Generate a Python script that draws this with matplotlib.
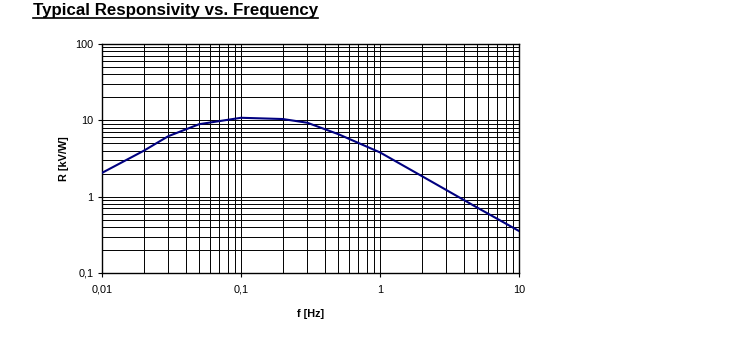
import matplotlib
matplotlib.use("Agg")
import matplotlib.pyplot as plt
from matplotlib.ticker import FixedLocator, FixedFormatter, LogLocator, NullFormatter
from matplotlib.lines import Line2D

freq = [0.01, 0.02, 0.03, 0.05, 0.1, 0.2, 0.3, 0.5, 1, 2, 5, 10]
resp = [2.05, 4.0, 6.2, 8.9, 10.8, 10.4, 9.3, 6.6, 3.8, 1.86, 0.72, 0.355]
x_ticks = [0.01, 0.1, 1, 10]
x_labels = ["0,01", "0,1", "1", "10"]
y_ticks = [0.1, 1, 10, 100]
y_labels = ["0,1", "1", "10", "100"]

plt.rcParams['font.family'] = ['Liberation Sans', 'DejaVu Sans']

fig = plt.figure(figsize=(7.37, 3.45), dpi=100)
ax = fig.add_axes([102/737, 1-273/345, (519-102)/737, (273-44)/345])

ax.plot(freq, resp, color="#000080", linewidth=1.5, zorder=3)
ax.set_xscale("log")
ax.set_yscale("log")
ax.set_xlim(0.01, 10)
ax.set_ylim(0.1, 100)

ax.xaxis.set_major_locator(FixedLocator(x_ticks))
ax.xaxis.set_major_formatter(FixedFormatter(x_labels))
ax.yaxis.set_major_locator(FixedLocator(y_ticks))
ax.yaxis.set_major_formatter(FixedFormatter(y_labels))
ax.xaxis.set_minor_locator(LogLocator(base=10, subs=range(2, 10)))
ax.yaxis.set_minor_locator(LogLocator(base=10, subs=range(2, 10)))
ax.xaxis.set_minor_formatter(NullFormatter())
ax.yaxis.set_minor_formatter(NullFormatter())

ax.grid(True, which="both", color="black", linewidth=0.7)
ax.set_axisbelow(True)
ax.tick_params(which="major", direction="out", length=3, width=0.8, labelsize=7.8)
ax.tick_params(axis="x", which="major", pad=5.5)
ax.tick_params(axis="y", which="major", pad=3)
ax.tick_params(which="minor", length=0)
for s in ax.spines.values():
    s.set_linewidth(1.0)
    s.set_color("black")

ax.set_xlabel("f [Hz]", fontsize=7.8, fontweight="bold", labelpad=10)
ax.set_ylabel("R [kV/W]", fontsize=7.8, fontweight="bold", labelpad=5)

t = fig.text(33/737, 1-15/345, "Typical Responsivity vs. Frequency", fontsize=12.2,
             fontweight="bold", ha="left", va="baseline")
fig.canvas.draw()
bb = t.get_window_extent()
x0, x1 = bb.x0/fig.bbox.width, bb.x1/fig.bbox.width
fig.add_artist(Line2D([x0, x1], [1-17.5/345, 1-17.5/345], color="black", linewidth=1.2))

fig.savefig("out.png", dpi=100, facecolor="white")
